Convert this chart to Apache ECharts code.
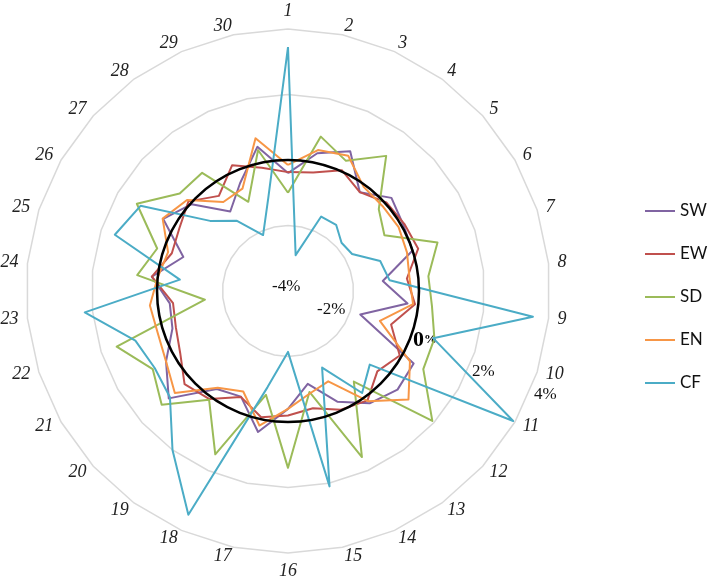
<!DOCTYPE html>
<html>
<head>
<meta charset="utf-8">
<script src="https://cdn.jsdelivr.net/npm/echarts@6/dist/echarts.min.js"></script>
<style>
html,body{margin:0;padding:0;background:#fff;}
#chart{width:709px;height:586px;}
</style>
</head>
<body>
<div id="chart"></div>
<script>
// Spokes (categories), clockwise from the top
const categories = ['1','2','3','4','5','6','7','8','9','10','11','12','13','14','15','16','17','18','19','20','21','22','23','24','25','26','27','28','29','30'];
// Values in percent
const SW = [-0.4, 0.3, 0.67, -0.27, 0.25, 0.06, 0.0, -1.09, -0.33, -1.68, 0.43, 0.5, 0.24, -0.3, -1.1, -0.4, 0.4, -0.47, -0.3, 0.9, 0.3, -0.29, -0.37, 0.18, -0.64, 0.4, -0.04, -1.0, -0.4, 0.5];
const EW = [-0.37, -0.3, 0.04, -0.27, 0.04, 0.1, 0.18, -0.35, -0.1, -0.69, -0.06, -0.33, 0.13, -0.03, -0.34, -0.2, -0.06, -0.46, 0.08, 0.25, -0.2, -0.4, -0.47, 0.18, -0.27, -0.17, 0.09, -0.41, 0.2, -0.15];
const SD = [-1.0, 0.82, 0.35, 1.1, -0.27, -0.6, 0.8, 0.31, 0.42, 0.7, 0.77, 1.93, -0.58, 1.55, -0.85, 1.4, -0.76, 1.46, 0.1, 1.19, 0.77, 1.5, -1.45, 0.63, 0.2, 1.33, 0.45, 0.46, -1.02, 0.4];
const EN = [-0.15, 0.4, 0.52, -0.07, -0.12, -0.1, -0.18, -0.27, -0.16, -1.05, 0.3, 0.95, 0.16, -0.98, -0.8, -0.4, 0.2, -0.64, -0.35, 0.65, 0.3, 0.18, 0.24, 0.0, -0.15, 0.42, 0.15, -0.64, -0.58, 0.77];
const CF = [3.45, -2.88, -1.51, -1.5, -1.8, -1.74, -1.04, -0.88, 3.52, 0.66, 3.94, -0.64, -0.15, -1.44, 2.1, -2.14, -1.0, 3.48, 2.0, 0.85, 0.7, 0.9, 2.24, -0.68, 1.56, 1.2, -0.8, -1.35, -2.13, -1.1];
// Radial axis
const axisMin = -4, axisMax = 4;
const ringLabels = ['-4%', '-2%', '0%', '2%', '4%'];

const seriesNames = ['SW', 'EW', 'SD', 'EN', 'CF'];
const seriesValues = [SW, EW, SD, EN, CF];
const colors = ['#8064A2', '#C0504D', '#9BBB59', '#F79646', '#4BACC6'];

// ECharts radar runs counter-clockwise: reorder so spoke 1 is on top and 2 lies to its right
const order = [0];
for (let i = categories.length - 1; i >= 1; i--) order.push(i);
const reorder = arr => order.map(i => arr[i]);

const chart = echarts.init(document.getElementById('chart'), null, {renderer: 'canvas'});
const serif = '"Liberation Serif", "Times New Roman", serif';

chart.setOption({
  animation: false,
  backgroundColor: '#fff',
  legend: {
    orient: 'vertical',
    left: 640,
    top: 197,
    itemGap: 25,
    itemWidth: 30,
    itemHeight: 2,
    icon: 'rect',
    data: seriesNames,
    textStyle: {fontFamily: 'Lato, "Open Sans", sans-serif', fontSize: 17, color: '#111', lineHeight: 18}
  },
  radar: {
    center: [288, 291],
    radius: 262,
    startAngle: 90,
    shape: 'polygon',
    splitNumber: 4,
    indicator: reorder(categories).map(n => ({name: n, min: axisMin, max: axisMax})),
    axisName: {color: '#222', fontFamily: serif, fontStyle: 'italic', fontSize: 18},
    nameGap: 9,
    axisLine: {show: false},
    axisTick: {show: false},
    axisLabel: {show: false},
    splitArea: {show: false},
    splitLine: {lineStyle: {color: '#d9d9d9', width: 1.5}}
  },
  polar: {center: [288, 291], radius: 131},
  angleAxis: {type: 'value', min: 0, max: 360, show: false},
  radiusAxis: {
    type: 'value', min: axisMin, max: 0, interval: 4, z: 10,
    axisLine: {show: false}, axisTick: {show: false}, axisLabel: {show: false},
    splitLine: {show: true, lineStyle: {color: '#000', width: 2.5}}
  },
  graphic: [
    {type: 'text', left: 272, top: 278, style: {text: ringLabels[0], font: '17px ' + serif, fill: '#111'}},
    {type: 'text', left: 317, top: 301, style: {text: ringLabels[1], font: '17px ' + serif, fill: '#111'}},
    {type: 'text', left: 413, top: 329, style: {
      text: '{a|0}{b|%}', font: '16px ' + serif, fill: '#000',
      rich: {a: {fontFamily: serif, fontWeight: 'bold', fontSize: 22}, b: {fontFamily: serif, fontWeight: 'bold', fontSize: 13}}
    }},
    {type: 'text', left: 472, top: 363, style: {text: ringLabels[3], font: '17px ' + serif, fill: '#111'}},
    {type: 'text', left: 534, top: 386, style: {text: ringLabels[4], font: '17px ' + serif, fill: '#111'}}
  ],
  series: [{
    type: 'radar',
    symbol: 'none',
    z: 3,
    data: seriesNames.map((n, i) => ({
      name: n,
      value: reorder(seriesValues[i]),
      itemStyle: {color: colors[i]},
      lineStyle: {color: colors[i], width: 2}
    }))
  }]
});
</script>
</body>
</html>
